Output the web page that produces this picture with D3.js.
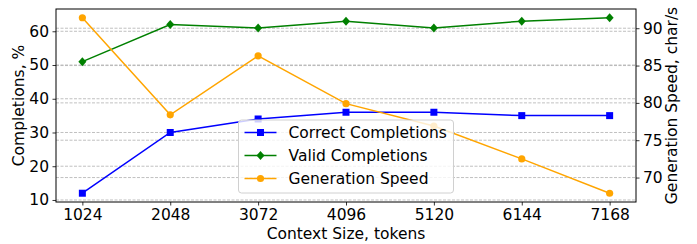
<!DOCTYPE html>
<html>
<head>
<meta charset="utf-8">
<script src="https://cdn.jsdelivr.net/npm/d3@7"></script>
<style>
  body { margin: 0; background: #fff; }
  text { font-family: "DejaVu Sans", sans-serif; }
</style>
</head>
<body>
<div id="chart"></div>
<script>
var contextSizes = [1024, 2048, 3072, 4096, 5120, 6144, 7168];
var correctCompletions = [12, 30, 34, 36, 36, 35, 35];
var validCompletions = [51, 62, 61, 63, 61, 63, 64];
var generationSpeed = [91.4, 78.4, 86.3, 79.9, 76.9, 72.5, 67.9];
var leftTicks = [10, 20, 30, 40, 50, 60];
var rightTicks = [70, 75, 80, 85, 90];

var width = 697, height = 244;
var margin = { top: 9, right: 61, bottom: 42, left: 56 };
var w = width - margin.left - margin.right;
var h = height - margin.top - margin.bottom;
var fs = "15.5px";

var svg = d3.select("#chart")
    .append("svg")
    .attr("width", width)
    .attr("height", height)
    .append("g")
    .attr("transform", "translate(" + margin.left + "," + margin.top + ")");

// matplotlib style 5% padding
function padded(vals) {
    var lo = d3.min(vals), hi = d3.max(vals), p = (hi - lo) * 0.05;
    return [lo - p, hi + p];
}

var x = d3.scaleLinear().domain(padded(contextSizes)).range([0, w]);
var yL = d3.scaleLinear().domain(padded(correctCompletions.concat(validCompletions))).range([h, 0]);
var yR = d3.scaleLinear().domain(padded(generationSpeed)).range([h, 0]);

// gridlines
svg.selectAll(".gridL")
    .data(leftTicks)
    .enter().append("line")
    .attr("x1", 0).attr("x2", w)
    .attr("y1", function (d) { return yL(d); })
    .attr("y2", function (d) { return yL(d); })
    .attr("stroke", "#b0b0b0")
    .attr("stroke-width", 0.8)
    .attr("stroke-dasharray", "3,1.5");

svg.selectAll(".gridR")
    .data(rightTicks)
    .enter().append("line")
    .attr("x1", 0).attr("x2", w)
    .attr("y1", function (d) { return yR(d); })
    .attr("y2", function (d) { return yR(d); })
    .attr("stroke", "#b0b0b0")
    .attr("stroke-width", 0.8)
    .attr("stroke-dasharray", "3,1.5");

var series = [
    { name: "Correct Completions", values: correctCompletions, color: "#0000ff", marker: "square", y: yL },
    { name: "Valid Completions", values: validCompletions, color: "#008000", marker: "diamond", y: yL },
    { name: "Generation Speed", values: generationSpeed, color: "#ffa500", marker: "circle", y: yR }
];

function drawMarker(g, type, color) {
    if (type === "square") {
        g.append("rect").attr("x", -3.5).attr("y", -3.5).attr("width", 7).attr("height", 7).attr("fill", color);
    } else if (type === "diamond") {
        g.append("path").attr("d", "M0,-4.5L4,0L0,4.5L-4,0Z").attr("fill", color);
    } else {
        g.append("circle").attr("r", 3.6).attr("fill", color);
    }
}

series.forEach(function (s) {
    var line = d3.line()
        .x(function (d, i) { return x(contextSizes[i]); })
        .y(function (d) { return s.y(d); });
    svg.append("path")
        .datum(s.values)
        .attr("d", line)
        .attr("fill", "none")
        .attr("stroke", s.color)
        .attr("stroke-width", 1.5);
    s.values.forEach(function (v, i) {
        var g = svg.append("g").attr("transform", "translate(" + x(contextSizes[i]) + "," + s.y(v) + ")");
        drawMarker(g, s.marker, s.color);
    });
});

// axes
var xAxis = svg.append("g")
    .attr("transform", "translate(0," + h + ")")
    .call(d3.axisBottom(x).tickValues(contextSizes).tickFormat(d3.format("d")).tickSizeOuter(0).tickSize(3.5).tickPadding(3.5));
var lAxis = svg.append("g")
    .call(d3.axisLeft(yL).tickValues(leftTicks).tickSizeOuter(0).tickSize(3.5).tickPadding(3.5));
var rAxis = svg.append("g")
    .attr("transform", "translate(" + w + ",0)")
    .call(d3.axisRight(yR).tickValues(rightTicks).tickSizeOuter(0).tickSize(3.5).tickPadding(3.5));

[xAxis, lAxis, rAxis].forEach(function (a) {
    a.select(".domain").remove();
    a.selectAll("text").style("font-size", fs).attr("fill", "#000").style("font-family", "DejaVu Sans");
    a.selectAll("line").attr("stroke", "#000").attr("stroke-width", 0.8);
});

svg.append("rect")
    .attr("width", w).attr("height", h)
    .attr("fill", "none")
    .attr("stroke", "#000")
    .attr("stroke-width", 1);

// axis labels
svg.append("text")
    .attr("x", w / 2).attr("y", h + 37)
    .attr("text-anchor", "middle")
    .style("font-size", fs)
    .text("Context Size, tokens");

svg.append("text")
    .attr("transform", "translate(" + (-32) + "," + (h / 2) + ") rotate(-90)")
    .attr("text-anchor", "middle")
    .style("font-size", fs)
    .text("Completions, %");

svg.append("text")
    .attr("transform", "translate(" + (w + 41) + "," + (h / 2) + ") rotate(-90)")
    .attr("text-anchor", "middle")
    .style("font-size", fs)
    .text("Generation Speed, char/s");

// legend
var lg = svg.append("g").attr("transform", "translate(" + (238.5 - margin.left) + "," + (120 - margin.top) + ")");
lg.append("rect")
    .attr("width", 215).attr("height", 73)
    .attr("rx", 3)
    .attr("fill", "#fff").attr("fill-opacity", 0.8)
    .attr("stroke", "#d0d0d0").attr("stroke-width", 1);

var item = lg.selectAll(".item")
    .data(series)
    .enter().append("g")
    .attr("transform", function (d, i) { return "translate(0," + (12.5 + i * 23) + ")"; });

item.append("line")
    .attr("x1", 6).attr("x2", 38)
    .attr("stroke", function (d) { return d.color; })
    .attr("stroke-width", 1.5);
item.each(function (d) {
    var g = d3.select(this).append("g").attr("transform", "translate(22,0)");
    drawMarker(g, d.marker, d.color);
});
item.append("text")
    .attr("x", 50).attr("dy", "0.35em")
    .style("font-size", fs)
    .text(function (d) { return d.name; });
</script>
</body>
</html>
